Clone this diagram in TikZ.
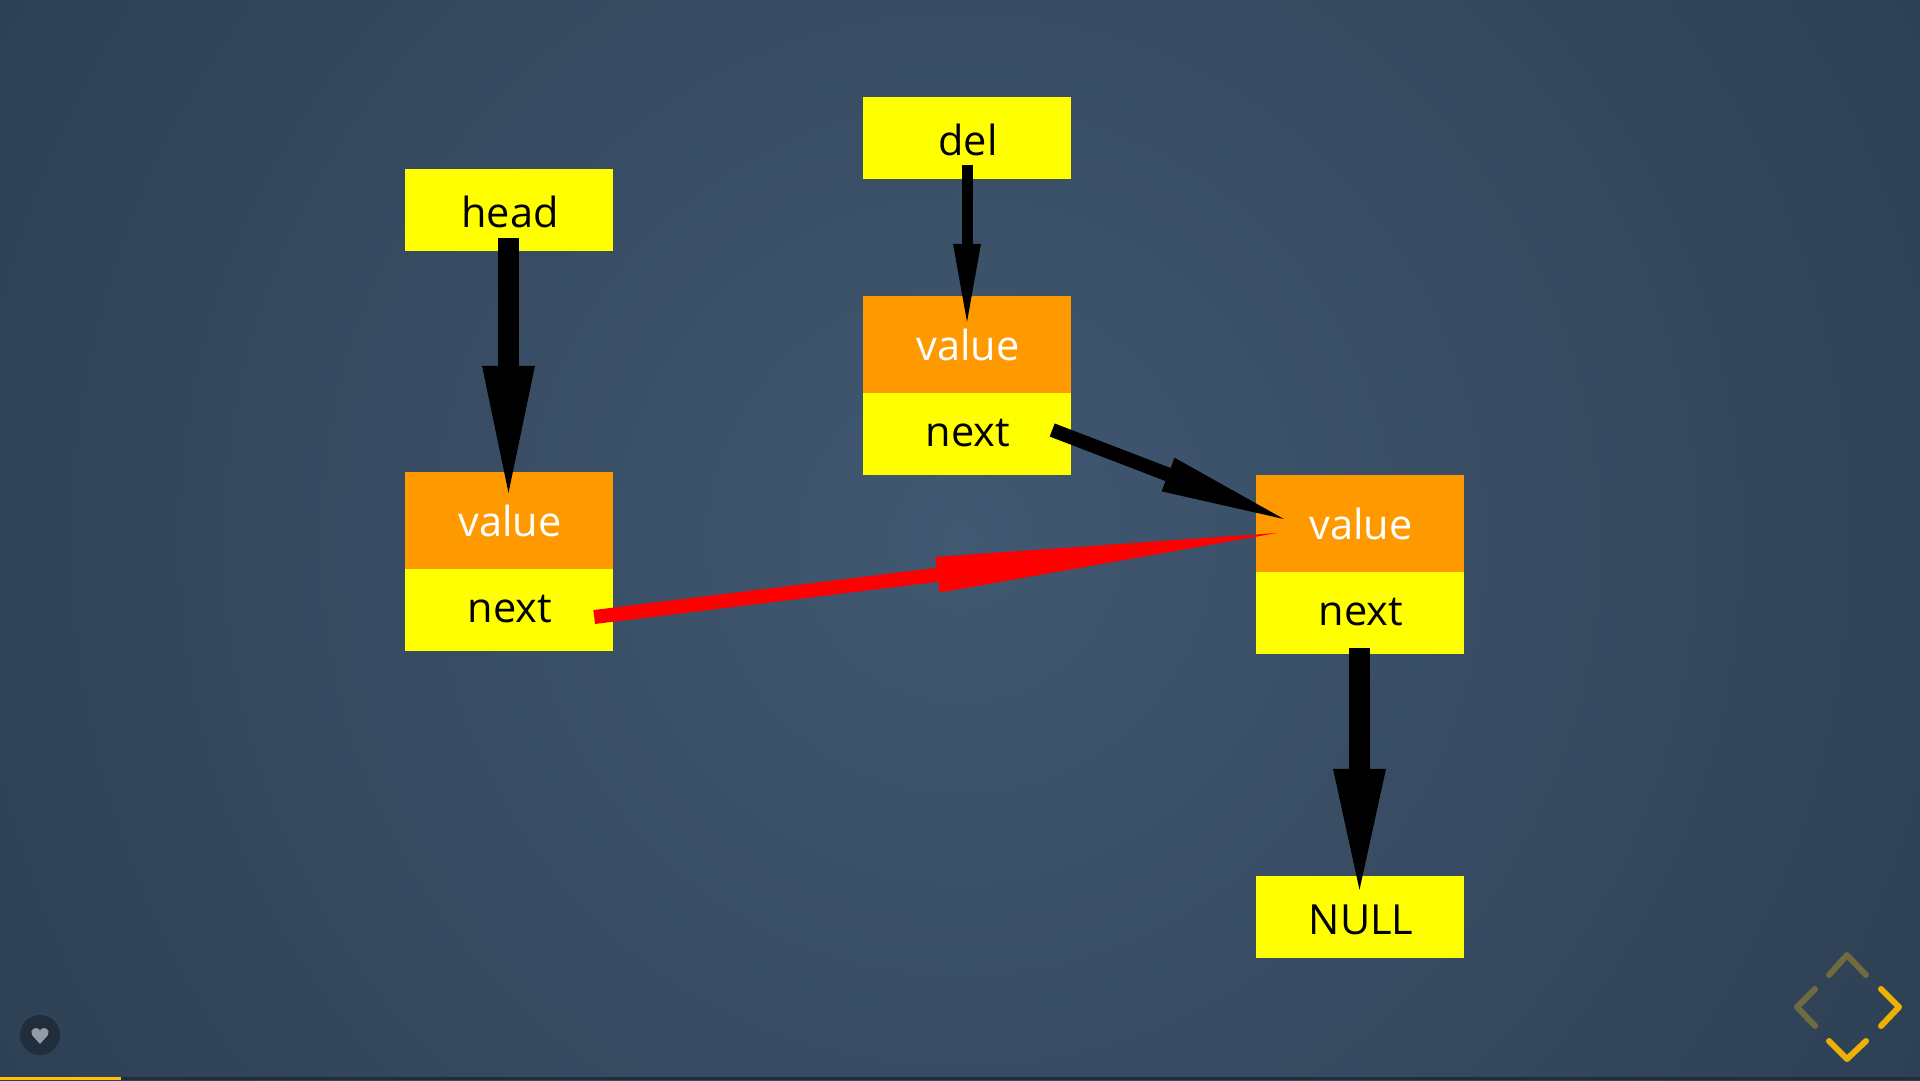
\documentclass[tikz,border=0pt]{standalone}
\usepackage{fontspec}
\setmainfont{Open Sans}
\usetikzlibrary{arrows.meta}

\definecolor{bginner}{HTML}{405871}
\definecolor{bgouter}{HTML}{2E4054}
\definecolor{navon}{HTML}{EEB004}
\definecolor{navoff}{HTML}{6F6A40}
\definecolor{barbase}{HTML}{1F2D3D}
\definecolor{barfill}{HTML}{FFC107}
\definecolor{heartcol}{HTML}{939BA6}
\definecolor{cellyellow}{HTML}{FFFF00}
\definecolor{cellorange}{HTML}{FF9900}
\definecolor{arrowred}{HTML}{FF0000}

\pgfdeclareradialshading{bgglow}{\pgfpoint{0bp}{0bp}}{
    color(0bp)=(bginner);
    color(25bp)=(bgouter);
    color(50bp)=(bgouter)}

\tikzset{
    cell/.style = {rectangle, inner sep = 0pt, minimum width = 208pt,
        text = black, font = \fontsize{41.5}{50}\selectfont,
        execute at begin node = \kern2pt},
    ptrcell/.style = {cell, fill = cellyellow, minimum height = 82pt, text height = 35pt, text depth = 0pt},
    nextcell/.style = {cell, fill = cellyellow, minimum height = 82pt, text height = 25pt, text depth = 0pt},
    valuecell/.style = {cell, fill = cellorange, minimum height = 97pt, text = white, text height = 32pt, text depth = 0pt},
    bigarrow/.style = {black, line width = 21pt, -{Triangle[width = 53pt, length = #1, line width = 0pt]}},
    midarrow/.style = {line width = 14pt, -{Triangle[width = 36pt, length = #1, line width = 0pt]}},
    navchevron/.style = {line width = 6pt, line cap = round, line join = round}
}

\begin{document}
\begin{tikzpicture}[x = 1pt, y = -1pt]

    \useasboundingbox (0,0) rectangle (1920,1080);

    \begin{scope}
        \clip (0,0) rectangle (1920,1080);
        \shade[shading = bgglow] (-141,-561) rectangle (2061,1641);
    \end{scope}

    \node[ptrcell] (head) at (509,210) {head};
    \node[valuecell] (value1) at (509,520.5) {value};
    \node[nextcell] (next1) at (509,610) {next};

    \node[ptrcell] (del) at (967,138) {del};
    \node[valuecell] (value2) at (967,344.5) {value};
    \node[nextcell] (next2) at (967,434) {next};

    \node[valuecell] (value3) at (1360,523.5) {value};
    \node[nextcell] (next3) at (1360,613) {next};
    \node[ptrcell] (null) at (1360,917) {NULL};

    \draw[bigarrow = 127pt] ([xshift = -0.5pt, yshift = 13pt]head.south) to ([xshift = -0.5pt, yshift = -21pt]value1.north);
    \draw[black, line width = 11pt, -{Triangle[width = 28pt, length = 78pt, line width = 0pt]}] ([yshift = 14pt]del.south) to ([yshift = -26pt]value2.north);
    \draw[midarrow = 124pt, black] ([xshift = -19pt, yshift = 4pt]next2.east) to ([xshift = 28pt, yshift = 4.5pt]value3.west);
    \draw[midarrow = 342pt, arrowred] ([xshift = -19pt, yshift = -7pt]next1.east) to ([xshift = 21pt, yshift = -9.5pt]value3.west);
    \draw[bigarrow = 121pt] ([xshift = -0.5pt, yshift = 6pt]next3.south) to ([xshift = -0.5pt, yshift = -14pt]null.north);

    \node[circle, fill = barbase, minimum size = 40pt, inner sep = 0pt] (like) at (40,1035) {};
    \fill[heartcol] (40,1044) -- (32,1035) .. controls (29,1030) and (36,1025) .. (40,1030)
        .. controls (44,1025) and (51,1030) .. (48,1035) -- cycle;

    \draw[navchevron, navoff] (1829,975) -- (1847,955) -- (1866,975);
    \draw[navchevron, navoff] (1815,989) -- (1797,1007) -- (1815,1026);
    \draw[navchevron, navon] (1881,989) -- (1899,1007) -- (1881,1026);
    \draw[navchevron, navon] (1829,1041) -- (1847,1059) -- (1866,1041);

    \fill[barbase] (0,1077) rectangle (1920,1080);
    \fill[barfill] (0,1077) rectangle (121,1080);

\end{tikzpicture}
\end{document}
